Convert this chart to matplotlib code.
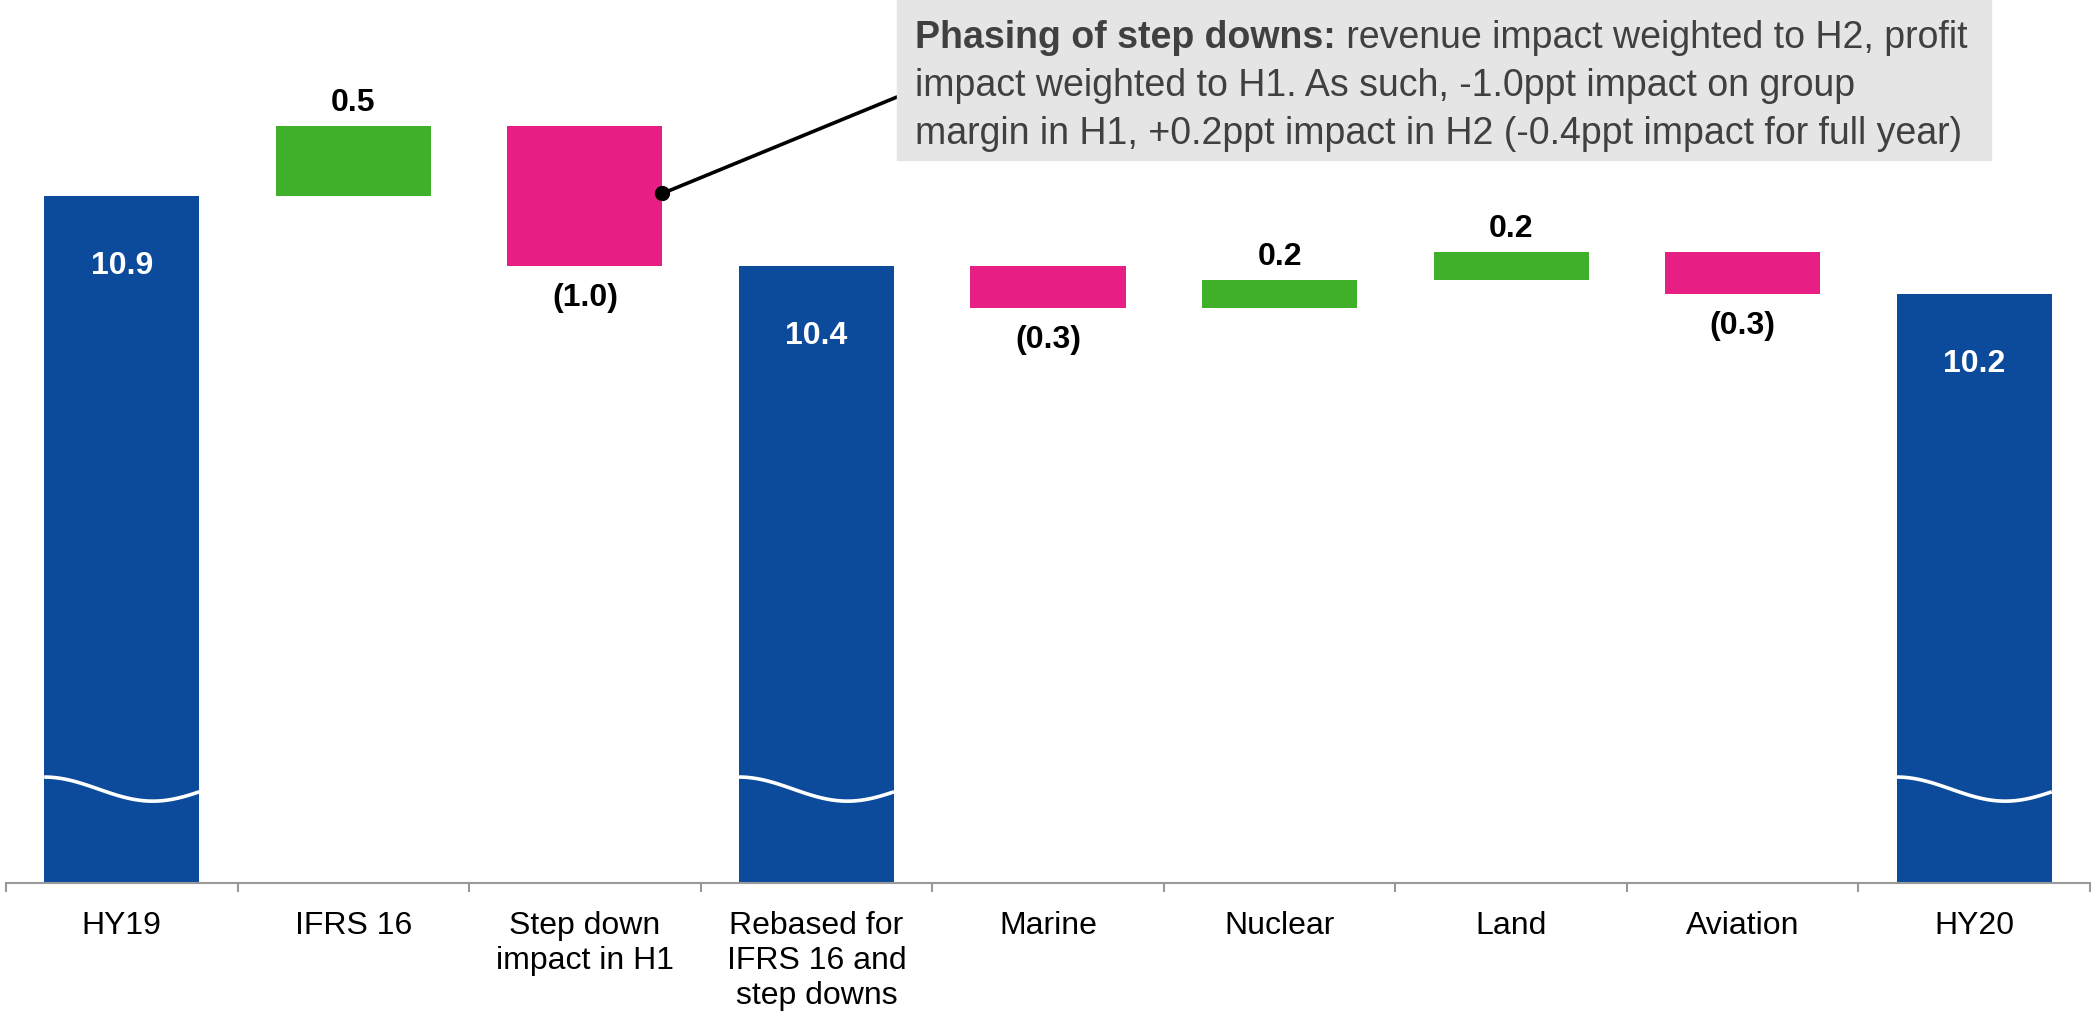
import numpy as np
import matplotlib
matplotlib.use("Agg")
import matplotlib.pyplot as plt
from matplotlib.patches import Rectangle

plt.rcParams['font.family'] = ['Liberation Sans', 'DejaVu Sans']

categories = ["HY19", "IFRS 16", "Step down\nimpact in H1", "Rebased for\nIFRS 16 and\nstep downs",
              "Marine", "Nuclear", "Land", "Aviation", "HY20"]
values = [10.9, 0.5, -1.0, 10.4, -0.3, 0.2, 0.2, -0.3, 10.2]
is_total = [True, False, False, True, False, False, False, False, True]

note_bold = "Phasing of step downs:"
note_lines = [" revenue impact weighted to H2, profit",
              "impact weighted to H1. As such, -1.0ppt impact on group",
              "margin in H1, +0.2ppt impact in H2 (-0.4ppt impact for full year)"]

BLUE = '#0c4a9b'
GREEN = '#40b02a'
PINK = '#e71f84'
base = 6.0  # axis is broken, bars start here

W, H = 2091, 1016
fig = plt.figure(figsize=(W / 100, H / 100), dpi=100)
ax = fig.add_axes([6 / W, 1 - 883 / H, (2090 - 6) / W, 883 / H])

bw = 0.67
running = 0
for i, (v, tot) in enumerate(zip(values, is_total)):
    if tot:
        running = v
        ax.bar(i, v - base, bottom=base, width=bw, color=BLUE)
        ax.annotate(f"{v:.1f}", (i, v), xytext=(0, -50), textcoords='offset points',
                    ha='center', va='center', color='white', fontsize=23, fontweight='bold')
        # break marker
        t = np.linspace(0, 1, 60)
        wy = 6.67 + 0.086 * np.cos(np.pi * t / 0.7)
        ax.plot(i - bw / 2 + t * bw, wy, color='white', lw=2.6, solid_capstyle='butt')
    else:
        col = GREEN if v > 0 else PINK
        ax.bar(i, v, bottom=running, width=bw, color=col)
        if v > 0:
            ax.annotate(f"{v:.1f}", (i, running + v), xytext=(0, 17), textcoords='offset points',
                        ha='center', va='center', fontsize=23, fontweight='bold')
        else:
            ax.annotate(f"({abs(v):.1f})", (i, running + v), xytext=(0, -23), textcoords='offset points',
                        ha='center', va='center', fontsize=23, fontweight='bold')
        running += v

ax.set_xlim(-0.5, len(values) - 0.5)
ax.set_ylim(base, 12.3)
for s in ['top', 'right', 'left']:
    ax.spines[s].set_visible(False)
ax.spines['bottom'].set_color('#999999')
ax.spines['bottom'].set_linewidth(1.5)
ax.set_yticks([])
ax.set_xticks(range(len(categories)))
ax.set_xticklabels(categories, fontsize=23, linespacing=1.22, va='top')
ax.tick_params(axis='x', which='major', length=0, pad=20)
ax.set_xticks(np.arange(-0.5, len(values)), minor=True)
ax.tick_params(axis='x', which='minor', length=6.5, width=1.5, color='#999999', direction='out')

# callout box
fig.patches.append(Rectangle((897 / W, 1 - 160 / H), (1991 - 897) / W, 160 / H,
                             transform=fig.transFigure, color='#e5e5e5', zorder=0))
tx, ty = 915 / W, 1 - 48 / H
r = fig.canvas.get_renderer()
tb = fig.text(tx, ty, note_bold, fontsize=27, fontweight='bold', color='#404040', va='baseline')
bb = tb.get_window_extent(r)
fig.text(bb.x1 / W, ty, note_lines[0], fontsize=27, color='#404040', va='baseline')
for k, line in enumerate(note_lines[1:], start=1):
    fig.text(tx, ty - k * 48 / H, line, fontsize=27, color='#404040', va='baseline')

ax.annotate('', xy=(2 + bw / 2, 10.92), xytext=(897 / W, 1 - 97 / H), textcoords='figure fraction',
            arrowprops=dict(arrowstyle='-', color='black', lw=2.6, shrinkA=0, shrinkB=0))
ax.plot(2 + bw / 2, 10.92, 'o', color='black', ms=10, clip_on=False)

fig.savefig("out.png", dpi=100)
